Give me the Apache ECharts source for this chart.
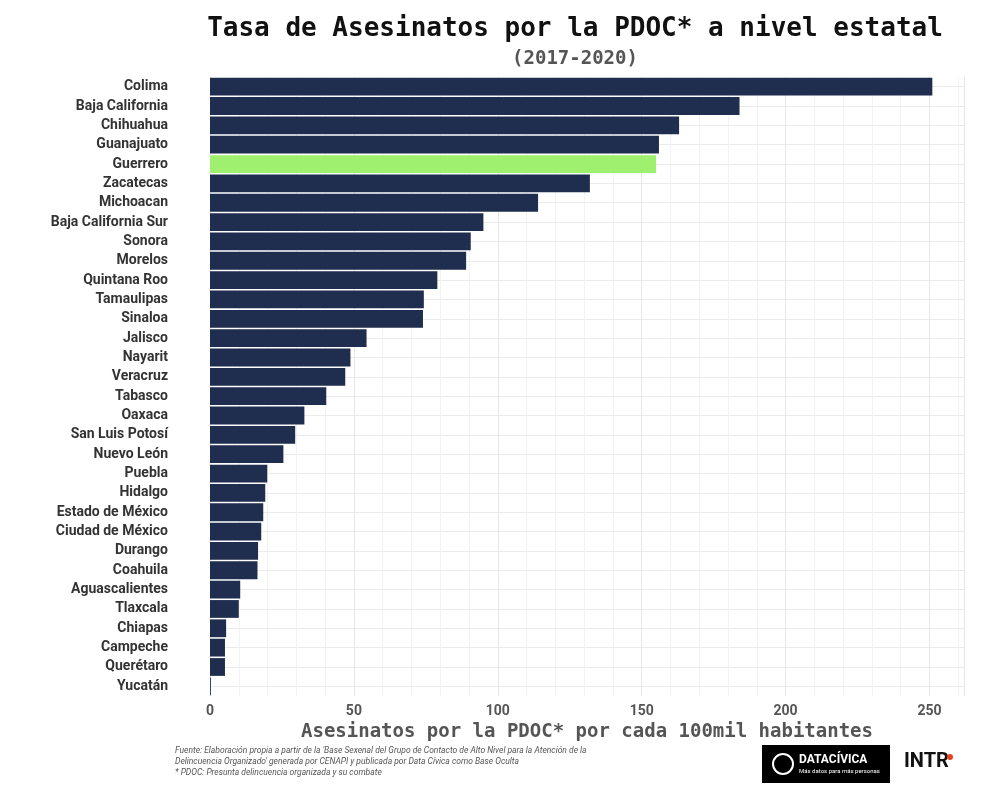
<!DOCTYPE html><html><head><meta charset="utf-8"><script src="https://cdn.jsdelivr.net/npm/echarts@6/dist/echarts.min.js"></script>
<style>body{margin:0;background:#fff}#c{width:1002px;height:788px}</style></head><body><div id="c"></div><script>
const states=["Colima","Baja California","Chihuahua","Guanajuato","Guerrero","Zacatecas","Michoacan","Baja California Sur","Sonora","Morelos","Quintana Roo","Tamaulipas","Sinaloa","Jalisco","Nayarit","Veracruz","Tabasco","Oaxaca","San Luis Potosí","Nuevo León","Puebla","Hidalgo","Estado de México","Ciudad de México","Durango","Coahuila","Aguascalientes","Tlaxcala","Chiapas","Campeche","Querétaro","Yucatán"];
const rates=[251,184,163,156,155,132,114,95,90.6,89,79,74.3,74,54.4,48.8,47,40.4,32.8,29.6,25.5,19.9,19.2,18.5,17.8,16.7,16.5,10.5,10,5.6,5.2,5.2,0.3];
const highlight="Guerrero";
const gridSlots=Array.from({length:states.length*2+1},(_,i)=>String(i));
const ch=echarts.init(document.getElementById('c'));
ch.setOption({
 title:[{text:'Tasa de Asesinatos por la PDOC* a nivel estatal',left:570,top:11,textAlign:'center',textStyle:{fontFamily:'DejaVu Sans Mono',fontWeight:'bold',fontSize:26,color:'#111'}},
  {text:'(2017-2020)',left:570,top:45,textAlign:'center',textStyle:{fontFamily:'DejaVu Sans Mono',fontWeight:'bold',fontSize:19,color:'#555'}}],
 grid:{left:210,right:38,top:77,bottom:92,containLabel:false},
 xAxis:{type:'value',min:0,max:262,interval:50,name:'Asesinatos por la PDOC* por cada 100mil habitantes',nameLocation:'middle',nameGap:12,
  nameTextStyle:{fontFamily:'DejaVu Sans Mono',fontWeight:'bold',fontSize:19,color:'#555'},
  axisLine:{show:false},axisTick:{show:false},axisLabel:{fontFamily:'Roboto',fontWeight:'bold',fontSize:14,color:'#555',margin:8,showMaxLabel:false},
  splitLine:{lineStyle:{color:'#e6e6e6'}},minorSplitLine:{show:true,lineStyle:{color:'#f2f2f2'}}},
 yAxis:[{type:'category',inverse:true,data:states,axisLine:{show:false},axisTick:{show:false},
  axisLabel:{fontFamily:'Roboto',fontWeight:'bold',fontSize:14,color:'#333',margin:42},splitLine:{show:false}},
  {type:'category',inverse:true,boundaryGap:false,data:gridSlots,axisLine:{show:false},axisTick:{show:false},axisLabel:{show:false},
   splitLine:{show:true,interval:(i)=>i%2===1,lineStyle:{color:'#ebebeb'}}}],
 series:[{type:'bar',yAxisIndex:0,barCategoryGap:'8%',data:rates.map((v,i)=>({value:v,itemStyle:{color:states[i]===highlight?'#9ef06e':'#1f2d4e'}}))}],
 graphic:[
  {type:'text',left:175,top:745,style:{text:"Fuente: Elaboración propia a partir de la 'Base Sexenal del Grupo de Contacto de Alto Nivel para la Atención de la\nDelincuencia Organizado' generada por CENAPI y publicada por Data Cívica como Base Oculta\n* PDOC: Presunta delincuencia organizada y su combate",font:'italic 8.5px Roboto',fill:'#555',lineHeight:11}},
  {type:'rect',shape:{x:762,y:745,width:128,height:38},style:{fill:'#000'}},
  {type:'circle',shape:{cx:783,cy:764,r:10},style:{fill:'none',stroke:'#fff',lineWidth:2}},
  {type:'text',x:799,y:754,style:{text:'DATACÍVICA',font:'bold 12px Roboto',fill:'#fff'}},
  {type:'text',x:799,y:768,style:{text:'Más datos para más personas',font:'6px Roboto',fill:'#fff'}},
  {type:'text',x:904,y:752,style:{text:'INTR',font:'bold 20px "Liberation Sans Narrow", Roboto',fill:'#111'}},
  {type:'circle',shape:{cx:950,cy:757,r:3},style:{fill:'#e8431f'}}
 ]
});
</script></body></html>
